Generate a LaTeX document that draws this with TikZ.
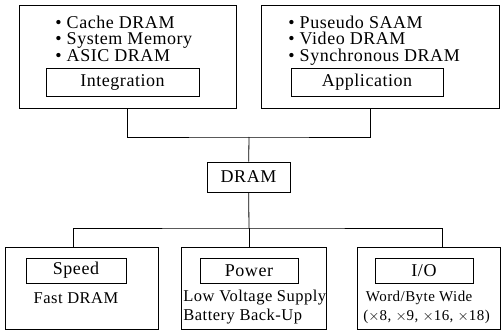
\documentclass[tikz,border=0pt]{standalone}
\usepackage{fontspec}
\setmainfont{Liberation Serif}[LetterSpace=3]
\usetikzlibrary{positioning}

\begin{document}
\begin{tikzpicture}[x=1pt, y=-1pt, line width=0.8pt,
  groupbox/.style={draw, minimum height=103pt},
  areabox/.style={draw, minimum height=82pt},
  tagbox/.style={draw, minimum height=28pt, font=\fontsize{18}{20}\selectfont},
  itemtext/.style={align=left, inner sep=0pt, font=\fontsize{18}{16.5}\selectfont},
  notetext/.style={align=left, inner sep=0pt, font=\fontsize{16.5}{19}\selectfont}]
  \useasboundingbox (0,0) rectangle (502,331);
  % upper groups
  \node[groupbox, minimum width=217pt] (intbox) at (127.5,56.5) {};
  \node[groupbox, minimum width=238pt] (appbox) at (380,56.5) {};
  \node[tagbox, minimum width=153pt] (integ) at (122.5,82.5) {Integration};
  \node[tagbox, minimum width=152pt] (appl) at (367,82.5) {Application};
  \node[itemtext, anchor=north west] (intlist) at (55,15.5) {\textbullet\ Cache DRAM\\\textbullet\ System Memory\\\textbullet\ ASIC DRAM};
  \node[itemtext, anchor=north west] (applist) at (288,15.5) {\textbullet\ Puseudo SAAM\\\textbullet\ Video DRAM\\\textbullet\ Synchronous DRAM};
  % centre
  \node[tagbox, minimum width=83pt, minimum height=30pt] (dram) at (248.5,177) {DRAM};
  \coordinate (jtop) at (249,137);
  \coordinate (jbot) at (249,228);
  \draw (intbox.south) |- (jtop) -| ([xshift=-10pt]appbox.south);
  \draw (jtop) -- (dram);
  % lower areas
  \node[areabox, minimum width=153pt] (speedbox) at (81.5,288) {};
  \node[areabox, minimum width=145pt] (powerbox) at (253.5,288) {};
  \node[areabox, minimum width=143pt] (iobox) at (428.5,288) {};
  \node[tagbox, minimum width=100pt, minimum height=25pt] (speed) at (76,270.5) {Speed};
  \node[tagbox, minimum width=98pt, minimum height=25pt] (power) at (249,270.5) {Power};
  \node[tagbox, minimum width=98pt, minimum height=25pt] (io) at (424,270.5) {I/O};
  \node[notetext] (speednote) at (76,298) {Fast DRAM};
  \node[notetext, anchor=west] (powernote) at (183,307.5) {Low Voltage Supply\\Battery Back-Up};
  \node[notetext, anchor=west, font=\fontsize{15}{19}\selectfont] (ionote) at (363,307.5) {\,Word/Byte Wide\\(${\times}$8, ${\times}$9, ${\times}$16, ${\times}$18)};
  \draw (dram) -- (jbot);
  \draw ([xshift=-8.5pt]speedbox.north) |- (jbot) -| ([xshift=13.5pt]iobox.north);
  \draw (jbot) -- (powerbox.north -| jbot);
\end{tikzpicture}
\end{document}
